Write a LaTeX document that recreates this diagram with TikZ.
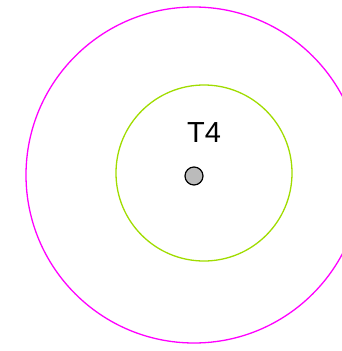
\documentclass[tikz,border=0pt]{standalone}
\usepackage{fontspec}
\setmainfont{Liberation Sans}
\definecolor{ringmag}{RGB}{255,0,255}
\definecolor{ringgreen}{RGB}{160,220,0}
\definecolor{dotgray}{RGB}{187,187,187}
\begin{document}
\begin{tikzpicture}[x=1pt,y=-1pt,
  ring/.style={draw, line width=1.3pt, fill=none},
  lbl/.style={font=\fontsize{29}{30}\selectfont, inner sep=0pt}]
\useasboundingbox (0,0) rectangle (341,351);
\draw[ring, ringmag] (194,175) circle[radius=168];
\draw[ring, ringgreen] (204,173) circle[radius=88];
\node[draw, line width=1.2pt, circle, fill=dotgray, minimum size=18pt, inner sep=0pt] (dot) at (194,176) {};
\node[lbl] (t4) at (204,132.5) {T4};
\end{tikzpicture}
\end{document}
